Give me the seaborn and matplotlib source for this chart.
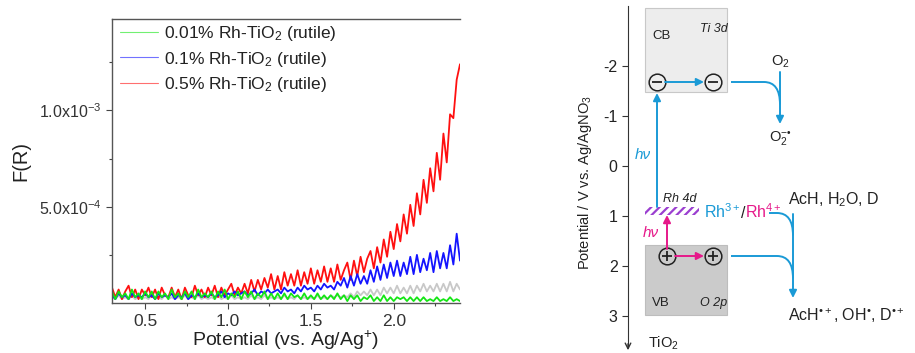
import numpy as np
import pandas as pd
import matplotlib
matplotlib.use("Agg")
import matplotlib.pyplot as plt
from matplotlib.patches import Rectangle, PathPatch
from matplotlib.path import Path
import seaborn as sns

sns.set_style("ticks")
plt.rcParams['font.family'] = ['Liberation Sans', 'DejaVu Sans']
plt.rcParams['axes.unicode_minus'] = False
plt.rcParams['mathtext.fontset'] = 'custom'
plt.rcParams['mathtext.rm'] = 'Liberation Sans'
plt.rcParams['mathtext.it'] = 'Liberation Sans:italic'
plt.rcParams['hatch.linewidth'] = 1.6

# ---------------- data (F(R) in units of 1e-5) ----------------
potential_start = 0.30
potential_step = 0.02
n_points = 106
scale = 1e-5

red_05 = [8,3,7,2,6,9,3,7,2,7,
          4,8,3,7,2,8,4,3,8,3,
          7,2,8,4,3,9,4,7,3,8,
          4,9,3,8,4,7,10,4,8,5,
          10,5,12,6,12,7,13,8,15,7,
          14,7,16,9,15,9,17,9,16,10,
          18,10,17,11,19,11,18,11,20,12,
          17,21,12,22,14,24,16,23,27,18,
          29,21,33,24,37,28,41,32,46,36,
          51,40,57,46,64,52,70,58,78,64,
          88,73,98,96,116,124]
blue_01 = [4,2,5,3,4,2,5,3,4,3,
           5,3,4,2,5,3,4,3,5,2,
           4,3,5,2,4,3,5,3,4,3,
           5,3,4,6,3,5,4,6,4,5,
           6,4,5,7,4,6,5,7,5,6,
           7,5,8,6,7,5,8,6,9,7,
           8,6,9,7,10,8,9,7,11,9,
           13,8,14,9,15,10,14,10,17,11,
           19,12,20,13,21,14,22,14,21,15,
           24,15,25,16,23,17,26,16,27,18,
           26,18,30,20,36,22]
green_001 = [6,2,6,3,5,2,7,3,5,2,
             6,3,6,2,6,3,5,2,7,3,
             5,2,6,3,6,2,7,3,5,3,
             6,2,6,3,7,2,5,3,6,2,
             6,3,6,2,5,3,6,2,5,2,
             5,2,5,2,5,3,4,2,5,2,
             4,2,5,2,4,2,4,2,5,2,
             4,1,4,2,4,1,3,2,4,1,
             3,1,4,1,3,1,3,2,3,1,
             3,1,3,1,3,1,2,1,3,1,
             2,1,3,1,2,1]
gray_ref = [3,2,4,2,3,2,4,2,3,2,
            3,2,4,2,3,2,4,2,3,2,
            3,2,4,2,3,2,4,2,3,2,
            3,2,4,2,3,2,4,2,3,2,
            3,2,4,2,3,2,4,2,3,2,
            3,2,4,2,3,2,4,2,3,2,
            3,2,4,2,3,2,4,3,4,3,
            4,3,5,3,6,4,6,4,7,4,
            7,4,8,5,8,5,9,5,8,5,
            9,5,9,6,10,6,9,6,10,6,
            10,6,11,6,10,7]

labels = ["0.01% Rh-TiO$_2$ (rutile)", "0.1% Rh-TiO$_2$ (rutile)", "0.5% Rh-TiO$_2$ (rutile)"]
xticks = [0.5, 1.0, 1.5, 2.0]
yticks = [5e-4, 1e-3]
ytick_labels = ["5.0x10$^{-4}$", "1.0x10$^{-3}$"]

pot = np.round(potential_start + potential_step * np.arange(n_points), 2)

# ---------------- figure ----------------
fig = plt.figure(figsize=(9.15, 3.53), dpi=100)
ax = fig.add_axes([112/915, 50/353, 348/915, 284/353])

series = [
    (gray_ref, "#c8c8c8", "_nolegend_"),
    (red_05, "#ff1010", labels[2]),
    (blue_01, "#1414ff", labels[1]),
    (green_001, "#14e614", labels[0]),
]
for vals, col, lab in series:
    sns.lineplot(x=pot, y=np.array(vals) * scale, color=col, lw=1.3,
                 ax=ax, label=lab, estimator=None, sort=False)

ax.set_xlim(0.30, 2.40)
ax.set_ylim(0, 1.475e-3)
ax.set_xticks(xticks)
ax.set_xticklabels([f"{t:.1f}" for t in xticks])
ax.set_xticks([0.75, 1.25, 1.75, 2.25], minor=True)
ax.set_yticks(yticks)
ax.set_yticklabels(ytick_labels)
ax.set_yticks([2.5e-4, 7.5e-4, 1.25e-3], minor=True)
ax.tick_params(axis='x', which='major', direction='out', length=4, width=0.8,
               labelsize=12.5, color='#444444', labelcolor='#333333', pad=4)
ax.tick_params(axis='y', which='major', direction='out', length=4, width=0.8,
               labelsize=11.5, color='#444444', labelcolor='#333333')
ax.tick_params(axis='both', which='minor', direction='out', length=2.5, width=0.8, color='#444444')
ax.spines['right'].set_visible(False)
for s in ['left', 'top', 'bottom']:
    ax.spines[s].set_color('#555555')
    ax.spines[s].set_linewidth(1.0)
ax.set_xlabel("Potential (vs. Ag/Ag$^{+}$)", fontsize=14, labelpad=0, color='#222222')
ax.set_ylabel("F(R)", fontsize=14.5, labelpad=6, color='#222222')

h, l = ax.get_legend_handles_labels()
hl = sorted(zip(h, l), key=lambda p: labels.index(p[1]))
leg = ax.legend([p[0] for p in hl], [p[1] for p in hl], loc='upper left',
                bbox_to_anchor=(-0.008, 1.018), frameon=False, fontsize=12.5,
                handlelength=2.2, handletextpad=0.35, labelspacing=0.36, borderaxespad=0.2)
for line in leg.get_lines():
    line.set_linewidth(0.8)
    line.set_alpha(0.6)
for t in leg.get_texts():
    t.set_color('#222222')

# ---------------- schematic ----------------
pot_levels = [-2, -1, 0, 1, 2, 3]
ax2 = fig.add_axes([560/915, 0, 355/915, 1])
ax2.patch.set_visible(False)
ax2.set_xlim(560, 915)
ax2.set_ylim(3.74, -3.32)
for s in ['right', 'top', 'bottom']:
    ax2.spines[s].set_visible(False)
ax2.spines['left'].set_position(('data', 628))
ax2.spines['left'].set_bounds(-3.2, 3.62)
ax2.spines['left'].set_color('#333333')
ax2.set_xticks([])
ax2.set_yticks(pot_levels)
ax2.set_yticklabels([str(v) for v in pot_levels])
ax2.tick_params(axis='y', direction='out', length=4, labelsize=11.5, color='#333333', labelcolor='#222222')
ax2.annotate("", xy=(628, 3.74), xytext=(628, 3.5),
             arrowprops=dict(arrowstyle='->', color='#333333', lw=1.0, mutation_scale=10))
ax2.text(585, 0.34, "Potential / V vs. Ag/AgNO$_3$", rotation=90, ha='center', va='center',
         fontsize=10.5, color='#222222')
ax2.text(648, 3.55, "TiO$_2$", fontsize=10.5, ha='left', va='center', color='#222222')

blue = "#1a9ad6"
mag = "#e6198a"

# bands
ax2.add_patch(Rectangle((645, -3.16), 82, 1.68, facecolor='#ededed', edgecolor='#c8c8c8', lw=0.8, zorder=1))
ax2.add_patch(Rectangle((645, 1.58), 82, 1.40, facecolor='#cbcbcb', edgecolor='#bdbdbd', lw=0.8, zorder=1))
ax2.text(652, -2.6, "CB", fontsize=9.5, va='center', ha='left', color='#222222')
ax2.text(700, -2.74, "Ti 3d", fontsize=9, style='italic', va='center', ha='left', color='#222222')
ax2.text(652, 2.74, "VB", fontsize=9.5, va='center', ha='left', color='#222222')
ax2.text(700, 2.74, "O 2p", fontsize=9, style='italic', va='center', ha='left', color='#222222')

# Rh 4d hatched level
ax2.add_patch(Rectangle((645, 0.82), 54, 0.16, facecolor='none', edgecolor='#9b3fd0', hatch='////',
                        lw=0, zorder=2))
ax2.text(663, 0.66, "Rh 4d", fontsize=9, style='italic', va='center', ha='left', color='#222222')

# charges
for cx, cy, sym in [(657, -1.68, '_'), (713, -1.68, '_'), (667, 1.8, '+'), (713, 1.8, '+')]:
    ax2.plot([cx], [cy], marker='o', ms=12, mfc='none', mec='#222222', mew=1.1, zorder=4)
    ax2.plot([cx], [cy], marker=sym, ms=7, mec='#222222', mew=1.3, zorder=4)

def arrow(x0, y0, x1, y1, col):
    ax2.annotate("", xy=(x1, y1), xytext=(x0, y0),
                 arrowprops=dict(arrowstyle='-|>', color=col, lw=1.4, mutation_scale=11,
                                 shrinkA=0, shrinkB=0), zorder=5)

arrow(665, -1.68, 704, -1.68, blue)
arrow(657, 0.82, 657, -1.46, blue)
ax2.text(643, -0.22, "h\u03bd", fontsize=11, style='italic', color=blue, ha='center', va='center')
arrow(667, 1.66, 667, 0.98, mag)
ax2.text(651, 1.34, "h\u03bd", fontsize=11, style='italic', color=mag, ha='center', va='center')
arrow(675, 1.8, 704, 1.8, mag)

def curve(x0, y0, x1, y1, col):
    path = Path([(x0, y0), (x1 - 16, y0), (x1, y0), (x1, y0 + 0.45)],
                [Path.MOVETO, Path.LINETO, Path.CURVE3, Path.CURVE3])
    ax2.add_patch(PathPatch(path, facecolor='none', edgecolor=col, lw=1.4, zorder=3))

# O2 reduction
curve(731, -1.68, 780, -1.68, blue)
arrow(780, -1.88, 780, -0.84, blue)
ax2.text(780, -2.08, "O$_2$", fontsize=10.5, ha='center', va='center', color='#222222')
ax2.text(780, -0.55, "O$_2^{-\u2022}$", fontsize=10.5, ha='center', va='center', color='#222222')

# oxidation
curve(769, 0.94, 793, 0.94, blue)
curve(731, 1.8, 793, 1.8, blue)
arrow(793, 0.96, 793, 2.64, blue)
t1 = ax2.text(704, 0.92, "Rh$^{3+}$", fontsize=11.5, color=blue, ha='left', va='center')
t2 = ax2.annotate("/", xy=(1, 0), xycoords=t1, ha='left', va='bottom', fontsize=11.5, color='#222222')
t3 = ax2.annotate("Rh$^{4+}$", xy=(1, 0), xycoords=t2, ha='left', va='bottom', fontsize=11.5, color=mag)
ax2.text(788, 0.68, "AcH, H$_2$O, D", fontsize=11.5, color='#222222', ha='left', va='center')
ax2.text(788, 3.0, "AcH$^{\u2022+}$, OH$^{\u2022}$, D$^{\u2022+}$", fontsize=11.5, color='#222222',
         ha='left', va='center')

fig.savefig("out.png", dpi=100)
